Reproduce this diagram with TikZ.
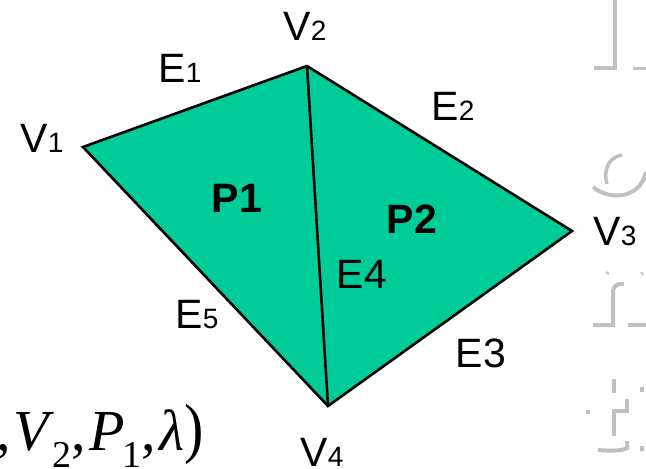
\documentclass[tikz,border=0pt]{standalone}
\usepackage{fontspec}
\setmainfont{Liberation Sans}
\newfontfamily\serifff{Liberation Serif}
\newcommand{\dsub}[1]{{\fontsize{28}{28}\selectfont #1}}
\newcommand{\fsub}[1]{\kern-2pt\raisebox{-17pt}{\upshape\fontsize{38}{38}\selectfont #1}}
\newcommand{\fcomma}{,\kern3pt}
\definecolor{polyfill}{RGB}{0,204,153}
\definecolor{ghost}{RGB}{192,192,192}
\begin{document}
\begin{tikzpicture}[x=1pt,y=-1pt,
  lab/.style={font=\fontsize{41}{41}\selectfont, anchor=base, inner sep=0pt},
  blab/.style={lab, font=\bfseries\fontsize{41}{41}\selectfont},
  edge/.style={draw=black, line width=2.6pt},
  ghostline/.style={draw=ghost, line width=4pt}]
\useasboundingbox (0,0) rectangle (646,469);
\clip (0,0) rectangle (646,469);
% vertices
\coordinate (v1) at (83,147);
\coordinate (v2) at (307,66);
\coordinate (v3) at (572,231);
\coordinate (v4) at (328,406);
% polygons
\fill[polyfill] (v1) -- (v2) -- (v3) -- (v4) -- cycle;
\draw[edge] (v1) -- (v2) -- (v3) -- (v4) -- cycle;
\draw[edge] (v2) -- (v4);
% labels
\node[lab] (lv1) at (42,152) {V\dsub{1}};
\node[lab] (lv2) at (305,40) {V\dsub{2}};
\node[lab] (lv3) at (615,245) {V\dsub{3}};
\node[lab] (lv4) at (322,466) {V\dsub{4}};
\node[lab] (le1) at (180,82) {E\dsub{1}};
\node[lab] (le2) at (453,120) {E\dsub{2}};
\node[lab] (le3) at (481,367) {E3};
\node[lab] (le4) at (362,288) {E4};
\node[lab] (le5) at (197,328) {E\dsub{5}};
\node[blab] (lp1) at (237,212) {P1};
\node[blab] (lp2) at (412,233) {P2};
% formula (cut at left edge)
\node[anchor=base east, inner sep=0pt, font=\serifff\fontsize{58}{58}\selectfont] (form) at (204,450)
  {(\textit{V}\fsub{1}\fcomma\textit{V}\fsub{2}\fcomma\textit{P}\fsub{1}\fcomma\textit{λ}\scalebox{1}[1.15]{)}};
% faint background letters at right edge
\draw[ghostline, line cap=butt] (615,0) -- (615,68) -- (594,68);
\draw[ghostline, line width=3pt] (633,68) -- (646,68);
\draw[ghostline, line width=3.5pt] (622,155) .. controls (608,157) and (603,171) .. (607,184);
\draw[ghostline, line width=4pt] (593,187) .. controls (610,201) and (640,199) .. (646,172);
\draw[ghostline] (593,325) -- (613,325) -- (613,293) .. controls (613,286) and (617,283) .. (624,284);
\draw[ghostline] (628,325) -- (646,325);
\draw[ghostline, line width=2pt] (606,272) -- (609,274);
\draw[ghostline, line width=2pt] (641,272) -- (643,275);
\draw[ghostline] (614,379) -- (614,393);
\draw[ghostline] (627,399) -- (627,411) -- (614,411) -- (614,436);
\draw[ghostline] (598,450) .. controls (610,451) and (622,451) .. (627,448) -- (627,441);
\fill[ghost] (586,410) rectangle (590,414);
\fill[ghost] (640,387) rectangle (644,392);
\fill[ghost] (640,446) rectangle (644,451);
\end{tikzpicture}
\end{document}
